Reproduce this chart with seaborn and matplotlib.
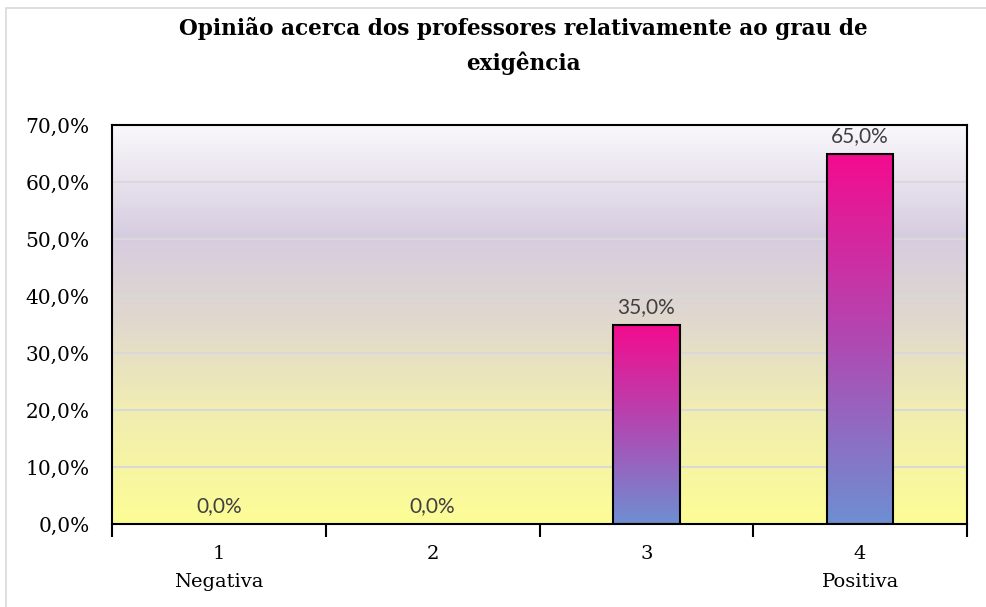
import numpy as np
import pandas as pd
import matplotlib
matplotlib.use("Agg")
import matplotlib.pyplot as plt
from matplotlib.colors import LinearSegmentedColormap
from matplotlib.patches import Rectangle
import seaborn as sns

# ---- data ----
categories = ["1", "2", "3", "4"]
tick_labels = ["1\nNegativa", "2", "3", "4\nPositiva"]
values = [0.0, 0.0, 35.0, 65.0]
title = "Opinião acerca dos professores relativamente ao grau de\nexigência"
y_ticks = [0, 10, 20, 30, 40, 50, 60, 70]

sns.set_theme(style="white")
plt.rcParams["font.family"] = ["DejaVu Serif"]
plt.rcParams["text.color"] = "black"
plt.rcParams["xtick.color"] = "black"
plt.rcParams["ytick.color"] = "black"

fig = plt.figure(figsize=(9.86, 6.07), dpi=100)
ax = fig.add_axes([112/986, 83/607, 855/986, 399/607])

df = pd.DataFrame({"cat": categories, "val": values})
sns.barplot(data=df, x="cat", y="val", ax=ax, width=0.31, color="#f40b8e",
            edgecolor="black", linewidth=1.5, zorder=3)

ax.set_xlim(-0.5, 3.5)
ax.set_ylim(0, 70)

# background gradient
bg_cmap = LinearSegmentedColormap.from_list("bg", [
    (0.0, "#fdfd96"), (0.3, "#f0ecb3"), (0.5, "#e1d9cd"),
    (0.72, "#d6cce0"), (1.0, "#f9f8fb")])
grad = np.linspace(0, 1, 256).reshape(-1, 1)
ax.imshow(grad, cmap=bg_cmap, origin="lower", aspect="auto",
          extent=[-0.5, 3.5, 0, 70], zorder=0)

# gridlines
for t in y_ticks[1:-1]:
    ax.axhline(t, color="#d9d9d9", lw=1.5, zorder=1)

# bar gradient
bar_cmap = LinearSegmentedColormap.from_list("bar", [
    (0.0, "#6e8fd2"), (0.5, "#b148b2"), (1.0, "#f40b8e")])
for p in ax.patches:
    h = p.get_height()
    if h <= 0:
        p.set_visible(False)
        continue
    x0 = p.get_x(); w = p.get_width()
    im = ax.imshow(grad, cmap=bar_cmap, origin="lower", aspect="auto",
                   extent=[x0, x0 + w, 0, h], zorder=2.5)
    im.set_clip_path(p)
    p.set_facecolor("none")

ax.set_xlim(-0.5, 3.5)
ax.set_ylim(0, 70)

# data labels
for i, v in enumerate(values):
    ax.annotate(f"{v:.1f}%".replace(".", ","), (i, v), xytext=(0, 5.5),
                textcoords="offset points", ha="center", va="bottom",
                fontsize=15, color="#404040", family=["Lato", "DejaVu Sans"],
                zorder=5)

ax.set_yticks(y_ticks)
ax.set_yticklabels([f"{t:.1f}%".replace(".", ",") for t in y_ticks], fontsize=14.5)
ax.tick_params(axis="y", length=0, pad=16)
ax.set_xticks(range(len(categories)))
ax.set_xticklabels(tick_labels, fontsize=14, linespacing=1.75)
ax.tick_params(axis="x", which="major", length=0, pad=15)
ax.set_xticks([-0.5, 0.5, 1.5, 2.5, 3.5], minor=True)
ax.tick_params(axis="x", which="minor", length=9, width=1.5, color="black",
               direction="out", bottom=True)
ax.set_xlabel("")
ax.set_ylabel("")
for s in ax.spines.values():
    s.set_visible(True)
    s.set_color("black")
    s.set_linewidth(1.5)

fig.text(523/986, 1 - 46/607, title, ha="center", va="center",
         fontsize=15.6, fontweight="bold", linespacing=1.6, color="black")

# outer chart border (top-left visible)
fig.patches.append(Rectangle((6/986, -0.1), 1.2, 1 - 8/607 + 0.1,
                             transform=fig.transFigure, fill=False,
                             edgecolor="#d9d9d9", lw=1.2))

fig.savefig("out.png", dpi=100)
